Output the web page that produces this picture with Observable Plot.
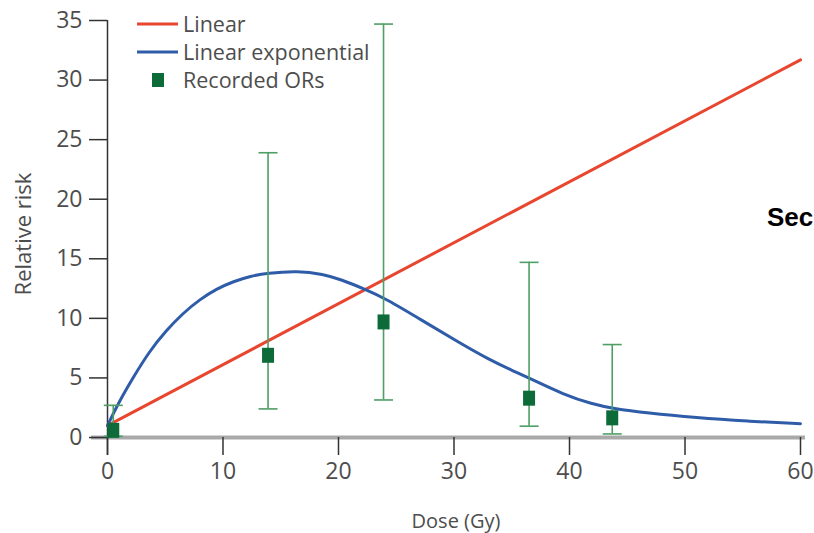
<!DOCTYPE html>
<html>
<head>
<meta charset="utf-8">
<script src="https://cdn.jsdelivr.net/npm/d3@7"></script>
<script src="https://cdn.jsdelivr.net/npm/@observablehq/plot@0.6"></script>
<style>
  html, body { margin: 0; padding: 0; background: #fff; overflow: hidden; }
  #wrap { position: relative; width: 814px; height: 533px; overflow: hidden; }
  .lg { position: absolute; font-family: "Open Sans", "DejaVu Sans", sans-serif; font-size: 21.5px; color: #4d4d4d; line-height: 26px; white-space: nowrap; }
  .sw { position: absolute; }
  #sec { position: absolute; left: 767px; top: 204px; font-family: "Liberation Sans", Arial, sans-serif; font-weight: bold; font-size: 26px; line-height: 26px; color: #000; white-space: nowrap; }
</style>
</head>
<body>
<div id="wrap"></div>
<script>
// ---- data ----
const linearDose = [0, 60];
const linearRR = [1.0, 31.7];

const expDose = [0, 1, 2.2, 3.6, 5.1, 6.5, 8, 9.5, 10.9, 12.4, 13.8, 16.5, 18.7, 20.1, 22.4, 24, 27.3, 30.2, 33.1, 35.1, 36.6, 39.5, 42, 43.7, 46.7, 51, 55.4, 60];
const expRR   = [1.0, 3.0, 5.0, 7.2, 9.0, 10.4, 11.6, 12.5, 13.1, 13.55, 13.8, 14.0, 13.7, 13.3, 12.4, 11.7, 9.8, 8.1, 6.5, 5.6, 4.95, 3.6, 2.8, 2.45, 2.05, 1.65, 1.37, 1.15];

const orDose  = [0.5, 13.9, 23.9, 36.5, 43.7];
const orValue = [0.6, 6.9, 9.7, 3.3, 1.65];
const orLower = [0.1, 2.4, 3.15, 0.95, 0.3];
const orUpper = [2.7, 23.9, 34.7, 14.7, 7.8];

const xTicks = [0, 10, 20, 30, 40, 50, 60];
const yTicks = [0, 5, 10, 15, 20, 25, 30, 35];

const legendLabels = ["Linear", "Linear exponential", "Recorded ORs"];
const xLabel = "Dose (Gy)";
const yLabel = "Relative risk";

// ---- colours ----
const RED = "#e8462e", BLUE = "#2f5ca8", BAR = "#4f9e66", SQ = "#0c6b38", TXT = "#4d4d4d";

const linear = linearDose.map((d, i) => ({dose: d, rr: linearRR[i]}));
const expo = expDose.map((d, i) => ({dose: d, rr: expRR[i]}));
const ors = orDose.map((d, i) => ({dose: d, or: orValue[i], lo: orLower[i], hi: orUpper[i]}));

const capSymbol = { draw(ctx) { ctx.moveTo(-9.5, 0); ctx.lineTo(9.5, 0); } };
const squareSymbol = { draw(ctx) { ctx.rect(-6, -7.5, 12, 15); } };

const font = '"Open Sans", "DejaVu Sans", sans-serif';

const chart = Plot.plot({
  width: 814,
  height: 533,
  marginLeft: 107,
  marginRight: 14,
  marginTop: 20,
  marginBottom: 96,
  x: {domain: [0, 60]},
  y: {domain: [0, 35]},
  style: {fontFamily: font, background: "white", color: TXT, overflow: "visible"},
  marks: [
    Plot.ruleY([0], {stroke: "#a9a9a9", strokeWidth: 4, insetLeft: -16, insetRight: -5}),
    Plot.ruleX([0], {stroke: "#333", strokeWidth: 1.5, insetBottom: -18}),
    Plot.axisY({ticks: yTicks, tickSize: 18, tickPadding: 7, fontSize: 23, label: null, stroke: "#333", strokeWidth: 1.5, fill: TXT}),
    Plot.axisX({ticks: xTicks, tickSize: 18, tickPadding: 7, fontSize: 23, label: null, stroke: "#333", strokeWidth: 1.5, fill: TXT}),
    Plot.text([yLabel], {frameAnchor: "left", dx: -84, dy: 5, rotate: -90, textAnchor: "middle", lineAnchor: "middle", fontSize: 22, fill: TXT}),
    Plot.text([xLabel], {frameAnchor: "bottom", dx: 2, dy: 84, lineAnchor: "middle", fontSize: 20, fill: TXT}),
    Plot.line(linear, {x: "dose", y: "rr", stroke: RED, strokeWidth: 3}),
    Plot.line(expo, {x: "dose", y: "rr", stroke: BLUE, strokeWidth: 3, curve: "basis"}),
    Plot.ruleX(ors, {x: "dose", y1: "lo", y2: "hi", stroke: BAR, strokeWidth: 1.6}),
    Plot.dot(ors, {x: "dose", y: "hi", symbol: capSymbol, r: 5, stroke: BAR, strokeWidth: 1.6, fill: "none"}),
    Plot.dot(ors, {x: "dose", y: "lo", symbol: capSymbol, r: 5, stroke: BAR, strokeWidth: 1.6, fill: "none"}),
    Plot.dot(ors, {x: "dose", y: "or", symbol: squareSymbol, r: 5, fill: SQ, stroke: "none"})
  ]
});

const wrap = document.getElementById("wrap");
wrap.appendChild(chart);

// ---- legend (overlay) ----
const legendRows = [24, 52, 80];
const swatch = (i) => {
  const s = document.createElementNS("http://www.w3.org/2000/svg", "svg");
  s.setAttribute("class", "sw");
  s.setAttribute("width", 60); s.setAttribute("height", 20);
  s.style.left = "130px"; s.style.top = (legendRows[i] - 10) + "px";
  if (i < 2) {
    const l = document.createElementNS(s.namespaceURI, "line");
    l.setAttribute("x1", 7); l.setAttribute("x2", 48); l.setAttribute("y1", 10); l.setAttribute("y2", 10);
    l.setAttribute("stroke", i === 0 ? RED : BLUE); l.setAttribute("stroke-width", 3);
    s.appendChild(l);
  } else {
    const r = document.createElementNS(s.namespaceURI, "rect");
    r.setAttribute("x", 22); r.setAttribute("y", 3); r.setAttribute("width", 12); r.setAttribute("height", 14);
    r.setAttribute("fill", SQ);
    s.appendChild(r);
  }
  return s;
};
legendLabels.forEach((t, i) => {
  wrap.appendChild(swatch(i));
  const d = document.createElement("div");
  d.className = "lg";
  d.style.left = "183px";
  d.style.top = (legendRows[i] - 13) + "px";
  d.textContent = t;
  wrap.appendChild(d);
});

const sec = document.createElement("div");
sec.id = "sec";
sec.textContent = "Sec";
wrap.appendChild(sec);
</script>
</body>
</html>
